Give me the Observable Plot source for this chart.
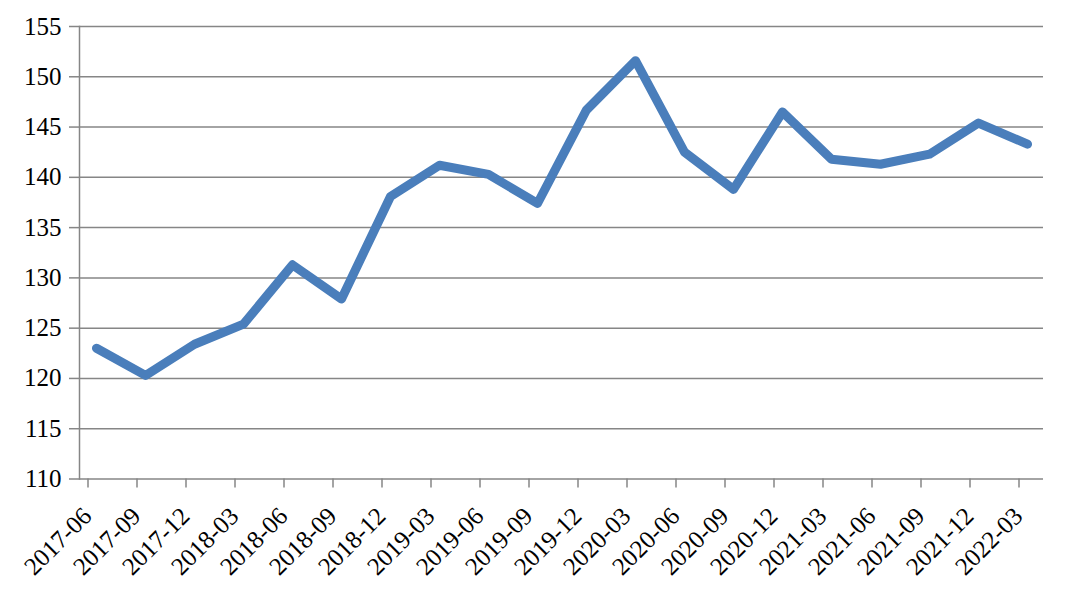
<!DOCTYPE html>
<html>
<head>
<meta charset="utf-8">
<script src="https://cdn.jsdelivr.net/npm/d3@7"></script>
<script src="https://cdn.jsdelivr.net/npm/@observablehq/plot@0.6"></script>
<style>
  html, body { margin: 0; padding: 0; background: #fff; }
  #chart { width: 1065px; height: 607px; }
  #chart svg text { font-family: "Liberation Serif", "Times New Roman", serif; }
</style>
</head>
<body>
<div id="chart"></div>
<script>
const categories = ["2017-06","2017-09","2017-12","2018-03","2018-06","2018-09","2018-12","2019-03","2019-06","2019-09",
                    "2019-12","2020-03","2020-06","2020-09","2020-12","2021-03","2021-06","2021-09","2021-12","2022-03"];
const values = [123.0, 120.3, 123.4, 125.4, 131.3, 127.9, 138.1, 141.2, 140.3, 137.4,
                146.7, 151.6, 142.5, 138.8, 146.5, 141.8, 141.3, 142.3, 145.4, 143.3];
const yTicks = [110, 115, 120, 125, 130, 135, 140, 145, 150, 155];

const data = categories.map((c, i) => ({period: c, value: values[i]}));
const grid = "#868686";
const font = "'Liberation Serif','Times New Roman',serif";

const chart = Plot.plot({
  width: 1065,
  height: 607,
  marginLeft: 79,
  marginRight: 22,
  marginTop: 26,
  marginBottom: 128.5,
  style: {fontFamily: font, fontSize: "25px", color: "#000", background: "#fff"},
  x: {type: "point", domain: categories, padding: 0, insetLeft: 9, insetRight: 8},
  y: {domain: [110, 155]},
  marks: [
    Plot.ruleY(yTicks, {stroke: grid, strokeWidth: 1.5}),
    Plot.frame({anchor: "left", stroke: grid, strokeWidth: 1.5}),
    Plot.axisY(yTicks, {tickSize: 10, tickPadding: 8, stroke: grid, strokeWidth: 1.5, fill: "#000", label: null, fontSize: 25, fontFamily: font}),
    Plot.axisX(categories, {tickSize: 9, dx: -8.5, tickFormat: () => "", stroke: grid, strokeWidth: 1.5, label: null}),
    Plot.axisX(categories, {tickSize: 0, tickPadding: 33, dx: -9, tickRotate: -45, fill: "#000", label: null, fontSize: 25, fontFamily: font}),
    Plot.line(data, {x: "period", y: "value", stroke: "#4a7ebb", strokeWidth: 9, strokeLinejoin: "round", strokeLinecap: "round"})
  ]
});
document.getElementById("chart").append(chart);
</script>
</body>
</html>
